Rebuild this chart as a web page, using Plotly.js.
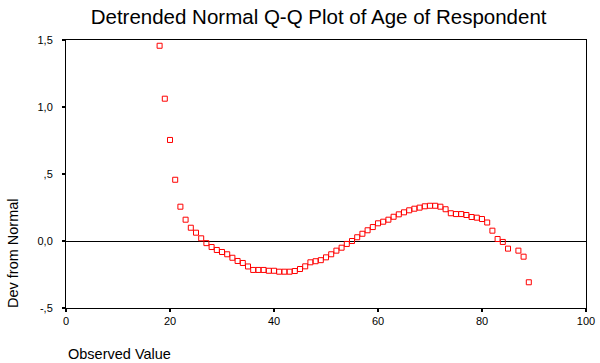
<!DOCTYPE html>
<html>
<head>
<meta charset="utf-8">
<script src="https://cdn.plot.ly/plotly-3.0.1.min.js"></script>
<style>html,body{margin:0;padding:0;background:#fff;}#chart{width:600px;height:363px;}</style>
</head>
<body>
<div id="chart"></div>
<script>
const ages = [18,19,20,21,22,23,24,25,26,27,28,29,30,31,32,33,34,35,36,37,38,39,40,41,42,43,44,45,46,47,48,49,50,51,52,53,54,55,56,57,58,59,60,61,62,63,64,65,66,67,68,69,70,71,72,73,74,75,76,77,78,79,80,81,82,83,84,85,87,88,89];
const devFromNormal = [1.457,1.062,0.754,0.457,0.256,0.159,0.099,0.062,0.020,-0.016,-0.045,-0.067,-0.082,-0.099,-0.125,-0.149,-0.164,-0.190,-0.216,-0.216,-0.216,-0.222,-0.222,-0.229,-0.229,-0.229,-0.224,-0.209,-0.189,-0.159,-0.151,-0.143,-0.122,-0.099,-0.072,-0.050,-0.022,0.000,0.028,0.054,0.080,0.104,0.132,0.144,0.159,0.181,0.199,0.214,0.229,0.241,0.249,0.259,0.263,0.263,0.256,0.237,0.207,0.201,0.201,0.194,0.179,0.174,0.164,0.138,0.077,0.015,-0.007,-0.057,-0.072,-0.117,-0.308];
const xTickVals = [0,20,40,60,80,100];
const xTickText = ['0','20','40','60','80','100'];
const yTickVals = [-0.5,0,0.5,1.0,1.5];
const yTickText = ['-,5','0,0',',5','1,0','1,5'];
const titleText = 'Detrended Normal Q-Q Plot of Age of Respondent';
const xTitle = 'Observed Value';
const yTitle = 'Dev from Normal';

const FONT = 'Arial, "Liberation Sans", sans-serif';
const trace = {
  x: ages, y: devFromNormal, type: 'scatter', mode: 'markers',
  marker: {symbol: 'square-open', size: 5, color: '#ff0000', line: {width: 1, color: '#ff0000'}},
  hoverinfo: 'x+y'
};
const layout = {
  width: 600, height: 363,
  margin: {l: 66, r: 14, t: 40, b: 55},
  paper_bgcolor: '#fff', plot_bgcolor: '#fff',
  font: {family: FONT, color: '#000', size: 11},
  showlegend: false,
  title: {text: titleText, font: {family: FONT, size: 20.5, color: '#000'}, x: 0.531, xref: 'container', xanchor: 'center', y: 0.953, yanchor: 'middle'},
  xaxis: {
    range: [0, 100], tickvals: xTickVals, ticktext: xTickText,
    showgrid: false, zeroline: false, showline: true, linecolor: '#000', linewidth: 1, mirror: true,
    ticks: 'outside', ticklen: 3, tickwidth: 2, tickcolor: '#000',
    tickfont: {family: FONT, size: 11, color: '#000'}
  },
  yaxis: {
    range: [-0.5, 1.5], tickvals: yTickVals, ticktext: yTickText,
    showgrid: false, zeroline: true, zerolinecolor: '#000', zerolinewidth: 1,
    showline: true, linecolor: '#000', linewidth: 1, mirror: true,
    ticks: 'outside', ticklen: 3, tickwidth: 2, tickcolor: '#000', ticklabelstandoff: 7,
    tickfont: {family: FONT, size: 11, color: '#000'}
  },
  annotations: [
    {text: yTitle, xref: 'paper', yref: 'paper', x: -0.102, y: 0.205, xanchor: 'center', yanchor: 'middle', textangle: -90, showarrow: false, font: {family: FONT, size: 14.5, color: '#000'}},
    {text: xTitle, xref: 'paper', yref: 'paper', x: 0.0, y: -0.172, xanchor: 'left', yanchor: 'middle', showarrow: false, font: {family: FONT, size: 14.5, color: '#000'}}
  ]
};
Plotly.newPlot('chart', [trace], layout, {displayModeBar: false, staticPlot: true});
</script>
</body>
</html>
